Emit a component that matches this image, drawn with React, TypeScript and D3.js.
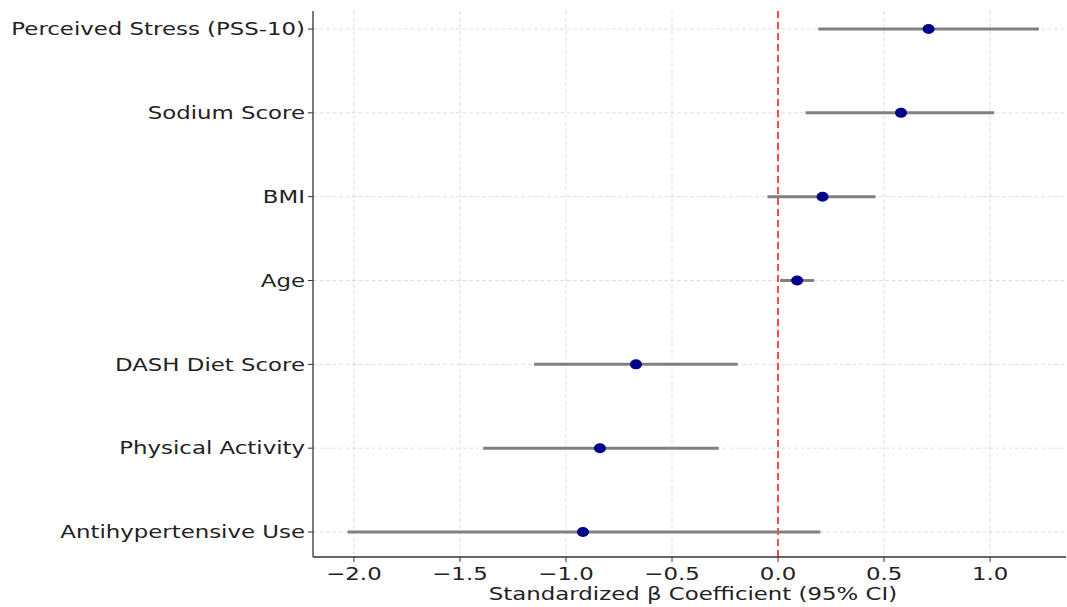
import React from "react";
import * as d3 from "d3";

const categories = [
  "Perceived Stress (PSS-10)",
  "Sodium Score",
  "BMI",
  "Age",
  "DASH Diet Score",
  "Physical Activity",
  "Antihypertensive Use",
];
const estimates = [0.71, 0.58, 0.21, 0.09, -0.67, -0.84, -0.92];
const lowerCI = [0.19, 0.13, -0.05, 0.01, -1.15, -1.39, -2.03];
const upperCI = [1.23, 1.02, 0.46, 0.17, -0.19, -0.28, 0.2];
const xTicks = [-2.0, -1.5, -1.0, -0.5, 0.0, 0.5, 1.0];
const xLabel = "Standardized β Coefficient (95% CI)";

const W = 1067;
const H = 607;
const left = 313;
const right = 1066;
const top = 11;
const bottom = 557;
const SX = 1.27;

export default function App() {
  const x = d3.scaleLinear().domain([-2.193, 1.358]).range([left, right]);
  const y = d3.scaleLinear().domain([-0.215, 6.298]).range([top, bottom]);
  const font = "'DejaVu Sans', sans-serif";
  const fmt = (v: number) => (v < 0 ? "\u2212" : "") + Math.abs(v).toFixed(1);
  return (
    <svg width={W} height={H} style={{ position: "absolute", left: 0, top: 0 }}>
      <rect width={W} height={H} fill="#fff" />
      {/* grid */}
      {xTicks.map((t) => (
        <line key={"gx" + t} x1={x(t)} x2={x(t)} y1={top} y2={bottom} stroke="#b0b0b0" strokeOpacity={0.5} strokeWidth={0.8} strokeDasharray="4,2.5" />
      ))}
      {categories.map((c, i) => (
        <line key={"gy" + c} x1={left} x2={right} y1={y(i)} y2={y(i)} stroke="#b0b0b0" strokeOpacity={0.5} strokeWidth={0.8} strokeDasharray="4,2.5" />
      ))}
      {/* zero line */}
      <line x1={x(0)} x2={x(0)} y1={top} y2={bottom} stroke="#ff0000" strokeOpacity={0.7} strokeWidth={2} strokeDasharray="7,4" />
      {/* CIs and points */}
      {categories.map((c, i) => (
        <g key={"m" + c}>
          <line x1={x(lowerCI[i])} x2={x(upperCI[i])} y1={y(i)} y2={y(i)} stroke="#808080" strokeWidth={3} />
          <ellipse cx={x(estimates[i])} cy={y(i)} rx={6} ry={5} fill="#00008b" />
        </g>
      ))}
      {/* spines */}
      <line x1={left} x2={left} y1={top} y2={bottom} stroke="#333" strokeWidth={1.3} />
      <line x1={left} x2={right} y1={bottom} y2={bottom} stroke="#333" strokeWidth={1.3} />
      {/* y ticks */}
      {categories.map((c, i) => (
        <g key={"yt" + c}>
          <line x1={left - 5} x2={left} y1={y(i)} y2={y(i)} stroke="#333" strokeWidth={1} />
          <g transform={`translate(${left - 8},${y(i)}) scale(${SX},1)`}>
            <text x={0} y={0} dy="0.35em" textAnchor="end" fontFamily={font} fontSize={18} fill="#222">
              {c}
            </text>
          </g>
        </g>
      ))}
      {/* x ticks */}
      {xTicks.map((t) => (
        <g key={"xt" + t}>
          <line x1={x(t)} x2={x(t)} y1={bottom} y2={bottom + 5} stroke="#333" strokeWidth={1} />
          <g transform={`translate(${x(t)},${bottom + 23}) scale(${SX},1)`}>
            <text x={0} y={0} textAnchor="middle" fontFamily={font} fontSize={18} fill="#222">
              {fmt(t)}
            </text>
          </g>
        </g>
      ))}
      <g transform={`translate(${693},${600}) scale(${SX},1)`}>
        <text x={0} y={0} textAnchor="middle" fontFamily={font} fontSize={18} fill="#222">
          {xLabel}
        </text>
      </g>
    </svg>
  );
}
